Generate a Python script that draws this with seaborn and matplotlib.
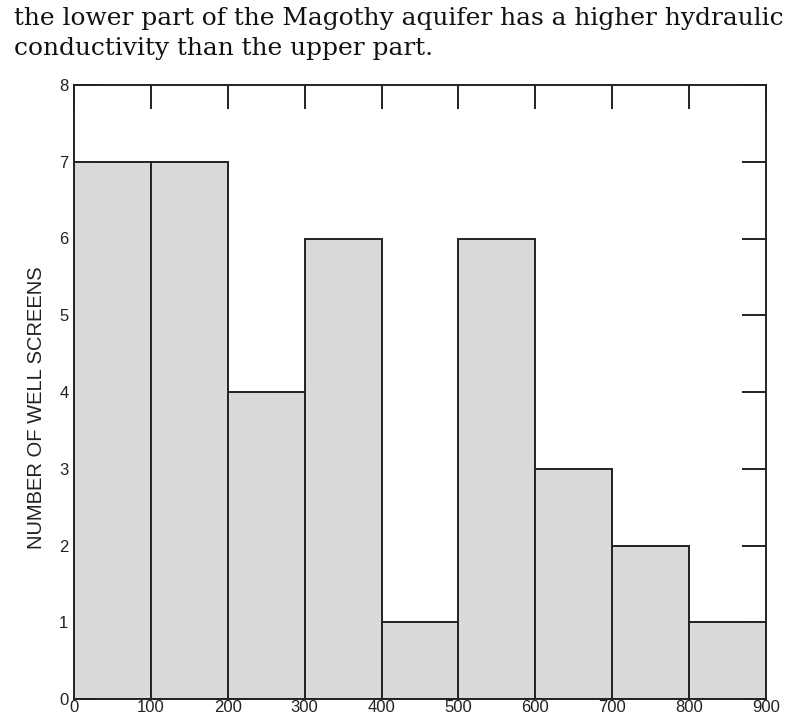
import matplotlib
matplotlib.use("Agg")
import matplotlib.pyplot as plt
import seaborn as sns
import numpy as np
import pandas as pd

# Data
bin_edges = [0, 100, 200, 300, 400, 500, 600, 700, 800, 900]
bin_centers = [50, 150, 250, 350, 450, 550, 650, 750, 850]
counts = [7, 7, 4, 6, 1, 6, 3, 2, 1]
x_ticks = [0, 100, 200, 300, 400, 500, 600, 700, 800, 900]
y_ticks = [0, 1, 2, 3, 4, 5, 6, 7, 8]
ylabel = "NUMBER OF WELL SCREENS"
caption_1 = "the lower part of the Magothy aquifer has a higher hydraulic"
caption_2 = "conductivity than the upper part."

sns.set_theme(style="white")
plt.rcParams['font.family'] = ['Liberation Sans', 'DejaVu Sans']

df = pd.DataFrame({"value": bin_centers, "count": counts})

fig = plt.figure(figsize=(7.97, 7.2), dpi=100)
ax = fig.add_axes([74/797, 21/720, 692/797, 614/720])

sns.histplot(data=df, x="value", weights="count", bins=bin_edges, ax=ax,
             color="#d9d9d9", edgecolor="#222222", linewidth=1.4, alpha=1.0)

ax.set_xlim(0, 900)
ax.set_ylim(0, 8)
ax.set_xticks(x_ticks)
ax.set_yticks(y_ticks)
ax.set_xlabel("")
ax.set_ylabel("")
fig.text(37/797, 1 - 408/720, ylabel, rotation=90, fontsize=14.5,
         va="center", ha="center", color="#222222")
for s in ax.spines.values():
    s.set_color("#222222")
    s.set_linewidth(1.4)
    s.set_visible(True)
ax.tick_params(axis="both", direction="in", length=17, width=1.4, color="#222222",
               labelsize=12, labelcolor="#222222",
               top=True, right=True, bottom=False, left=True)
ax.tick_params(axis="x", pad=1)
ax.tick_params(axis="y", pad=4)

t1 = fig.text(14/797, 1 - 18/720, caption_1, family="DejaVu Serif", fontsize=17,
              va="center", ha="left", color="#111111")
t2 = fig.text(14/797, 1 - 49/720, caption_2, family="DejaVu Serif", fontsize=17,
              va="center", ha="left", color="#111111")
fig.canvas.draw()
w = t1.get_window_extent().width
fs = 17 * 769 / w
t1.set_fontsize(fs)
t2.set_fontsize(fs)

fig.savefig("out.png", dpi=100)
